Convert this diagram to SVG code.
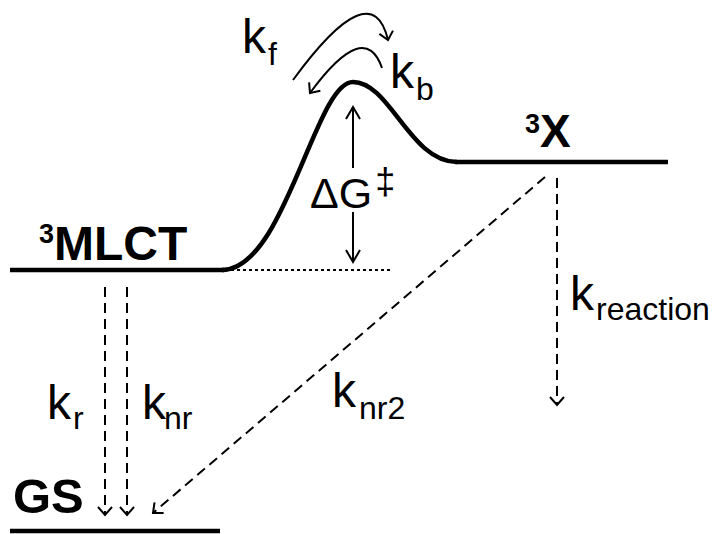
<svg xmlns="http://www.w3.org/2000/svg" width="716" height="534" viewBox="0 0 716 534">
<style>
.lvl{fill:none;stroke:#000;stroke-width:4.5}
.lab{font-family:"Liberation Sans",Arial,sans-serif;font-weight:bold;fill:#000}
.k{font-family:"Liberation Sans",Arial,sans-serif;fill:#000;font-size:48px}
.sub{font-size:32px}
.dash{fill:none;stroke:#000;stroke-width:2;stroke-dasharray:10,6}
.solid{fill:none;stroke:#000;stroke-width:2}
</style>
<defs>
<marker id="v" viewBox="-10 -10 20 20" markerWidth="20" markerHeight="20" refX="0" refY="0" orient="auto" markerUnits="userSpaceOnUse">
<path d="M-8,-7 L0,0 L-8,7" fill="none" stroke="#000" stroke-width="2"/>
</marker>
<marker id="v2" viewBox="-14 -10 20 20" markerWidth="20" markerHeight="20" refX="0" refY="0" orient="auto" markerUnits="userSpaceOnUse">
<path d="M-12,-7 L0,0 L-12,7" fill="none" stroke="#000" stroke-width="2"/>
</marker>
</defs>
<g id="mlct">
<path class="lvl" d="M10,270 H224"/>
<text class="lab" x="39" y="260" font-size="48"><tspan font-size="27" dy="-17">3</tspan><tspan dy="17">MLCT</tspan></text>
</g>
<g id="barrier">
<path class="lvl" d="M222,270 C285,270 315,82 353,82 C390,82 410,162 457,162"/>
<path d="M231,270 H390" fill="none" stroke="#000" stroke-width="2" stroke-dasharray="3,3"/>
</g>
<g id="x3">
<path class="lvl" d="M455,162 H668"/>
<text class="lab" x="525" y="147" font-size="46"><tspan font-size="27" dy="-14">3</tspan><tspan dy="14">X</tspan></text>
</g>
<g id="gs">
<path class="lvl" d="M10,531 H220"/>
<text class="lab" x="13" y="513" font-size="49">GS</text>
</g>
<g id="connectors">
<path class="solid" d="M293,80 Q372,-28 388,40" marker-end="url(#v)"/>
<path class="solid" d="M382,68 Q365,18 310,93" marker-end="url(#v)"/>
<path class="solid" d="M353,168 V107" marker-end="url(#v2)"/>
<path class="solid" d="M353,212 V262" marker-end="url(#v2)"/>
<path class="dash" d="M105,287 V515" marker-end="url(#v)"/>
<path class="dash" d="M127,287 V515" marker-end="url(#v)"/>
<path class="dash" d="M545,177 L153,513" marker-end="url(#v)"/>
<path class="dash" d="M557,178 V405" marker-end="url(#v)"/>
</g>
<g id="labels">
<text class="k" x="242" y="53">k<tspan class="sub" dx="2" dy="12">f</tspan></text>
<text class="k" x="390" y="88">k<tspan class="sub" dx="2" dy="12">b</tspan></text>
<text class="k" x="310" y="208" font-size="43" style="font-size:43px">ΔG<tspan dx="3" dy="-14" style="font-size:36px">‡</tspan></text>
<text class="k" x="47" y="419">k<tspan class="sub" dx="2" dy="10">r</tspan></text>
<text class="k" x="142" y="419">k<tspan class="sub" dx="-2" dy="10">nr</tspan></text>
<text class="k" x="332" y="407">k<tspan class="sub" dx="3" dy="12">nr2</tspan></text>
<text class="k" x="570" y="310">k<tspan class="sub" dx="2" dy="10">reaction</tspan></text>
</g>
</svg>
